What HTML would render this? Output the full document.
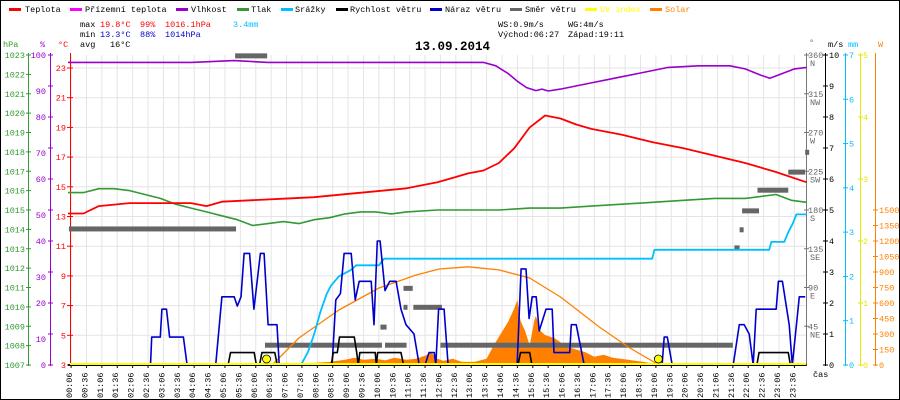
<!DOCTYPE html>
<html><head><meta charset="utf-8"><style>
html,body{margin:0;padding:0;background:#fff;}
#wrap{width:900px;height:400px;position:relative;overflow:hidden;}
svg text{font-family:"Liberation Mono",monospace;font-size:8.5px;}
</style></head><body>
<div id="wrap">
<svg id="chart" width="900" height="400" viewBox="0 0 900 400" xmlns="http://www.w3.org/2000/svg">
<rect x="0.5" y="0.5" width="899" height="399" fill="#fff" stroke="#000"/>
<g id="grid"></g>
<g id="legend">
<rect x="9" y="8" width="12" height="3" fill="#ff0000"/><text x="25" y="12">Teplota</text>
<rect x="70" y="8" width="12" height="3" fill="#ff00ff"/><text x="85" y="12">Přízemní teplota</text>
<rect x="176" y="8" width="12" height="3" fill="#9900cc"/><text x="191" y="12">Vlhkost</text>
<rect x="237" y="8" width="12" height="3" fill="#339933"/><text x="251" y="12">Tlak</text>
<rect x="281" y="8" width="12" height="3" fill="#00bfff"/><text x="295" y="12">Srážky</text>
<rect x="336" y="8" width="12" height="3" fill="#000"/><text x="350" y="12">Rychlost větru</text>
<rect x="430" y="8" width="12" height="3" fill="#0000cc"/><text x="445" y="12">Náraz větru</text>
<rect x="510" y="8" width="12" height="3" fill="#666"/><text x="525" y="12">Směr větru</text>
<rect x="585" y="8" width="12" height="3" fill="#ffff00"/><text x="600" y="12" fill="#ffff00">UV index</text>
<rect x="650" y="8" width="12" height="3" fill="#ff8000"/><text x="665" y="12" fill="#ff8000">Solar</text>
</g>
<g id="stats">
<text x="80" y="27">max</text>
<text x="100" y="27" fill="#ff0000">19.8°C</text>
<text x="140" y="27" fill="#ff0000">99%</text>
<text x="165" y="27" fill="#ff0000">1016.1hPa</text>
<text x="233" y="27" fill="#00bfff">3.4mm</text>
<text x="80" y="37">min</text>
<text x="100" y="37" fill="#0000cc">13.3°C</text>
<text x="140" y="37" fill="#0000cc">88%</text>
<text x="165" y="37" fill="#0000cc">1014hPa</text>
<text x="80" y="47">avg</text>
<text x="110" y="47">16°C</text>
<text x="498" y="27">WS:0.9m/s</text>
<text x="568" y="27">WG:4m/s</text>
<text x="498" y="37">Východ:06:27</text>
<text x="568" y="37">Západ:19:11</text>
<text x="415" y="50" style="font-size:12.5px;font-weight:bold">13.09.2014</text>
</g>
<g id="axes"></g>
<g id="series"></g>
</svg>
</div>
<script>
// ---- data arrays ----
const timeLabels = ["00:06","00:36","01:06","01:36","02:06","02:36","03:06","03:36","04:06","04:36","05:06","05:36","06:06","06:36","07:06","07:36","08:06","08:36","09:06","09:36","10:06","10:36","11:06","11:36","12:06","12:36","13:06","13:36","14:06","14:36","15:06","15:36","16:06","16:36","17:06","17:36","18:06","18:36","19:06","19:36","20:06","20:36","21:06","21:36","22:06","22:36","23:06","23:36"];
const tempTicks = [3,5,7,9,11,13,15,17,19,21,23];
const pressTicks = [1007,1008,1009,1010,1011,1012,1013,1014,1015,1016,1017,1018,1019,1020,1021,1022,1023];
const humTicks = [0,10,20,30,40,50,60,70,80,90,100];
const dirTicks = [45,90,135,180,225,270,315,360];
const dirNames = ["NE","E","SE","S","SW","W","NW","N"];
const windTicks = [0,1,2,3,4,5,6,7,8,9,10];
const rainTicks = [0,1,2,3,4,5,6,7];
const uvTicks = [0,1,2,3,4,5];
const solarTicks = [0,150,300,450,600,750,900,1050,1200,1350,1500];

const tempData = [[0,13.2],[0.5,13.2],[1,13.7],[1.5,13.8],[2,13.9],[3,13.9],[4,13.9],[4.5,13.7],[5,14.0],[6,14.1],[7,14.2],[8,14.3],[9,14.5],[10,14.7],[11,14.9],[12,15.3],[12.5,15.6],[13,15.9],[13.5,16.1],[14,16.6],[14.5,17.6],[15,19.0],[15.5,19.8],[16,19.6],[16.5,19.2],[17,18.9],[18,18.5],[19,18.0],[20,17.6],[21,17.1],[22,16.6],[23,16.0],[24,15.3]];
const humData = [[0,97.6],[2,97.6],[4,97.6],[5.4,98.2],[6.5,97.6],[10,97.6],[12,97.6],[13.5,97.6],[13.9,96.5],[14.3,94],[14.6,91.5],[14.9,89.5],[15.2,88.5],[15.4,89],[15.6,88.4],[16,89],[16.5,90],[17,91],[17.5,92],[18,93],[18.5,94],[19,95],[19.5,96],[20.5,96.5],[21.5,96.5],[22,95.5],[22.5,93.5],[22.8,92.5],[23.2,94],[23.6,95.5],[24,96]];
const pressData = [[0,1015.9],[0.5,1015.9],[1,1016.1],[1.5,1016.1],[2,1016.0],[2.5,1015.8],[3,1015.6],[3.5,1015.3],[4,1015.1],[4.5,1014.9],[5,1014.7],[5.5,1014.5],[6,1014.2],[6.5,1014.3],[7,1014.4],[7.5,1014.3],[8,1014.5],[8.5,1014.6],[9,1014.8],[9.5,1014.9],[10,1014.9],[10.5,1014.8],[11,1014.9],[12,1015.0],[13,1015.0],[14,1015.0],[15,1015.1],[16,1015.1],[17,1015.2],[18,1015.3],[19,1015.4],[20,1015.5],[21,1015.6],[22,1015.6],[23,1015.8],[23.5,1015.5],[24,1015.4]];
const rainData = [[0,0],[7.57,0],[7.8,0.3],[8.0,0.7],[8.2,1.2],[8.4,1.6],[8.55,1.8],[8.8,2.0],[9.2,2.15],[9.36,2.25],[10.1,2.25],[10.27,2.4],[18.98,2.4],[19.05,2.6],[22.78,2.6],[22.85,2.78],[23.27,2.78],[23.4,3.0],[23.55,3.2],[23.66,3.4],[24,3.4]];
const windData = [[0,0],[5.2,0],[5.28,0.4],[6.05,0.4],[6.12,0],[6.22,0],[6.3,0.4],[6.72,0.4],[6.8,0],[8.55,0],[8.62,0.4],[8.75,0.4],[8.82,0.9],[9.3,0.9],[9.38,0.4],[9.43,0],[9.48,0.4],[9.98,0.4],[10.02,0],[10.06,0.4],[10.82,0.4],[10.9,0],[14.62,0],[14.7,0.4],[15.0,0.4],[15.07,0],[22.38,0],[22.45,0.4],[23.4,0.4],[23.47,0],[24,0]];
const gustData = [[0,0],[2.68,0],[2.72,0.9],[3.0,0.9],[3.05,1.8],[3.2,1.8],[3.3,0.9],[3.75,0.9],[3.87,0],[4.8,0],[5.0,2.2],[5.4,2.2],[5.5,1.9],[5.62,2.2],[5.72,3.6],[5.9,3.6],[6.04,1.8],[6.25,3.6],[6.37,3.6],[6.5,1.3],[6.79,1.3],[6.86,0],[8.58,0],[8.7,2.1],[8.85,2.3],[8.97,3.6],[9.2,3.6],[9.33,2.1],[9.46,2.7],[9.85,2.7],[9.94,1.3],[10.05,4.0],[10.14,4.0],[10.3,2.4],[10.45,2.7],[10.66,2.7],[10.82,1.8],[10.98,1.3],[11.24,1.0],[11.41,0],[11.6,0],[11.73,0.4],[11.9,0.4],[11.95,0],[12.04,1.8],[12.22,1.8],[12.35,0],[14.59,0],[14.72,3.1],[14.88,3.1],[14.98,1.5],[15.08,2.2],[15.21,2.2],[15.31,1.1],[15.53,1.8],[15.73,1.8],[15.79,0.4],[16.3,0.4],[16.35,1.3],[16.51,1.3],[16.77,0],[19.30,0],[19.37,0.9],[19.47,0.9],[19.63,0],[21.61,0],[21.81,1.3],[21.97,1.3],[22.13,1.0],[22.26,0],[22.36,1.8],[23.01,1.8],[23.08,2.7],[23.21,2.7],[23.43,1.3],[23.53,0],[23.76,2.2],[23.95,2.2]];
const solarCurve = [[6.63,0],[7.5,261],[8.8,532],[10.1,745],[11.3,870],[12.06,929],[13.0,950],[14.0,920],[15.0,842],[16.0,658],[17.26,368],[18.2,174],[19.2,0]];
const solarArea = [[7.5,0],[7.6,15],[8.0,20],[8.5,30],[9.0,50],[9.3,70],[9.6,50],[10.0,60],[10.3,45],[10.6,70],[11.0,50],[11.3,60],[11.6,90],[11.8,120],[12.0,60],[12.2,40],[12.5,60],[12.8,30],[13.2,30],[13.6,60],[13.85,200],[14.1,320],[14.3,420],[14.5,550],[14.6,630],[14.7,430],[14.85,330],[15.0,190],[15.15,430],[15.2,475],[15.35,330],[15.5,290],[15.8,260],[16.2,180],[16.5,150],[16.8,125],[17.1,80],[17.4,100],[17.7,70],[18.2,50],[18.7,30],[19.1,10],[19.2,0]];
const dirStart = [0.03,5.43,6.40,10.3,10.15,10.9,10.9,11.22,12.1,21.65,21.82,21.9,22.4,23.4,23.95];
const dirEnd   = [5.46,6.47,10.2,11.0,10.35,11.2,10.97,12.15,21.6,21.82,21.9,22.45,23.4,23.95,24.0];
const dirDeg   = [158,359,23,23,44,89,67,67,23,136,157,179,203,224,247];
const sunEvents = [6.45,19.18];

// ---- scales ----
const X = h => 68 + h*30.78;
const yT = c => 365 - (c-3)*14.85;
const yP = p => 365 - (p-1007)*19.375;
const yH = v => 365 - v*3.1;
const yW = v => 365 - v*31;
const yR = v => 365 - v*44.29;
const yS = v => 365 - v*0.10333;
const yD = v => 365 - v*0.8611;
const yU = v => 365 - v*62;

const NS = "http://www.w3.org/2000/svg";
function mk(tag, attrs, parent){
  const e = document.createElementNS(NS, tag);
  for (const k in attrs) e.setAttribute(k, attrs[k]);
  parent.appendChild(e);
  return e;
}
const grid = document.getElementById('grid');
const axes = document.getElementById('axes');
const series = document.getElementById('series');

timeLabels.forEach((lab,i)=>{
  const x = X((6+30*i)/60);
  const l = mk('line',{x1:x,x2:x,y1:55,y2:365,stroke:'#e4e4e4','stroke-width':1},grid);
  
  
  const t = mk('text',{x:x+1,y:398,transform:`rotate(-90 ${x+1} 398)`},axes);
  t.textContent = lab;
  
  
  const tk = mk('line',{x1:x,x2:x,y1:365,y2:368,stroke:'#000'},axes);
  
  
});
tempTicks.forEach(c=>{
  const y = yT(c);
  const l = mk('line',{x1:70,x2:806,y1:y,y2:y,stroke:'#e4e4e4'},grid);
  
  
});

function axisLine(x,color,name){
  const l = mk('line',{x1:x,x2:x,y1:53,y2:366,stroke:color,'stroke-width':1},axes);
  
  
}
function tickLabel(x,y,txt,color,anchor,name){
  const t = mk('text',{x:x,y:y,fill:color,'text-anchor':anchor},axes);
  t.textContent = txt;
  
  
}
function tickMark(x1,x2,y,color){
  const l = mk('line',{x1:x1,x2:x2,y1:y,y2:y,stroke:color},axes);
  
  
}
axisLine(28.5,'#339933','pressure-axis');
axisLine(50.5,'#9900cc','humidity-axis');
axisLine(70.5,'#ff0000','temperature-axis');
tickLabel(3,47,'hPa','#339933','start','pressure-axis-title');
tickLabel(40,47,'%','#9900cc','start','humidity-axis-title');
tickLabel(58,47,'°C','#ff0000','start','temperature-axis-title');
pressTicks.forEach(p=>{const y=yP(p);tickMark(26,31,y,'#339933');tickLabel(25,y+3,p,'#339933','end','pressure-tick-label');});
humTicks.forEach(v=>{const y=yH(v);tickMark(48,53,y,'#9900cc');tickLabel(46,y+3+(v%20?5:0),v,'#9900cc','end','humidity-tick-label');});
tempTicks.forEach(c=>{const y=yT(c);tickMark(67,73,y,'#ff0000');tickLabel(66,y+3,c,'#ff0000','end','temperature-tick-label');});
axisLine(806.5,'#777','direction-axis');
axisLine(825.5,'#000','wind-axis');
axisLine(845.5,'#00bfff','rain-axis');
axisLine(860.5,'#e6e600','uv-axis');
axisLine(875.5,'#ff8000','solar-axis');
tickLabel(809,45,'°','#666','start','direction-axis-title');
tickLabel(828,47,'m/s','#000','start','wind-axis-title');
tickLabel(848,47,'mm','#00bfff','start','rain-axis-title');
tickLabel(878,47,'W','#ff8000','start','solar-axis-title');
dirTicks.forEach((d,i)=>{const y=yD(d);tickMark(804,809,y,'#777');tickLabel(808,y+3,d,'#666','start','direction-tick-label');tickLabel(810,y+11,dirNames[i],'#666','start','direction-name-label');});
windTicks.forEach(v=>{const y=yW(v);tickMark(823,828,y,'#000');tickLabel(829,y+3,v,'#000','start','wind-tick-label');});
rainTicks.forEach(v=>{const y=yR(v);tickMark(843,848,y,'#00bfff');tickLabel(849,y+3,v,'#00bfff','start','rain-tick-label');});
uvTicks.forEach(v=>{const y=yU(v);tickMark(858,863,y,'#e6e600');tickLabel(863,y+3,v,'#e6e600','start','uv-tick-label');});
solarTicks.forEach(v=>{const y=yS(v);tickMark(873,878,y,'#ff8000');tickLabel(879,y+3,v,'#ff8000','start','solar-tick-label');});
tickLabel(813,377,'čas','#000','start','x-axis-title');

function pts(data, yf){ return data.map(d=>X(d[0]).toFixed(1)+','+yf(d[1]).toFixed(1)).join(' '); }
const area = mk('polygon',{points:pts(solarArea,yS)+' '+X(solarArea[solarArea.length-1][0])+',365 '+X(solarArea[0][0])+',365',fill:'#ff8000'},series);


for (let i=0;i<dirDeg.length;i++){
  const y = yD(dirDeg[i]);
  const r = mk('rect',{x:X(dirStart[i]),y:y-2.5,width:Math.max(4,X(dirEnd[i])-X(dirStart[i])),height:5,fill:'#666'},series);
  
  
}
function line(data,yf,color,w,name){
  const p = mk('polyline',{points:pts(data,yf),fill:'none',stroke:color,'stroke-width':w,'stroke-linejoin':'round'},series);
  
  
}
line(solarCurve,yS,'#ff8000',1.3,'solar-clear-sky-line');
line(pressData,yP,'#339933',1.6,'pressure-line');
line(humData,yH,'#9900cc',1.6,'humidity-line');
line(tempData,yT,'#ff0000',1.8,'temperature-line');
line(rainData,yR,'#00bfff',1.8,'rain-line');
line(gustData,yW,'#0000cc',1.6,'gust-line');
line(windData,yW,'#000',1.6,'wind-speed-line');
const uv = mk('line',{x1:70,x2:806,y1:364,y2:364,stroke:'#ffff00','stroke-width':2},series);


const base = mk('line',{x1:70,x2:806,y1:365.5,y2:365.5,stroke:'#000','stroke-width':1},series);


sunEvents.forEach(h=>{
  const c = mk('circle',{cx:X(h),cy:359,r:4,fill:'#ffff00',stroke:'#000','stroke-width':0.8},series);
  
  
});
</script>
</body></html>
